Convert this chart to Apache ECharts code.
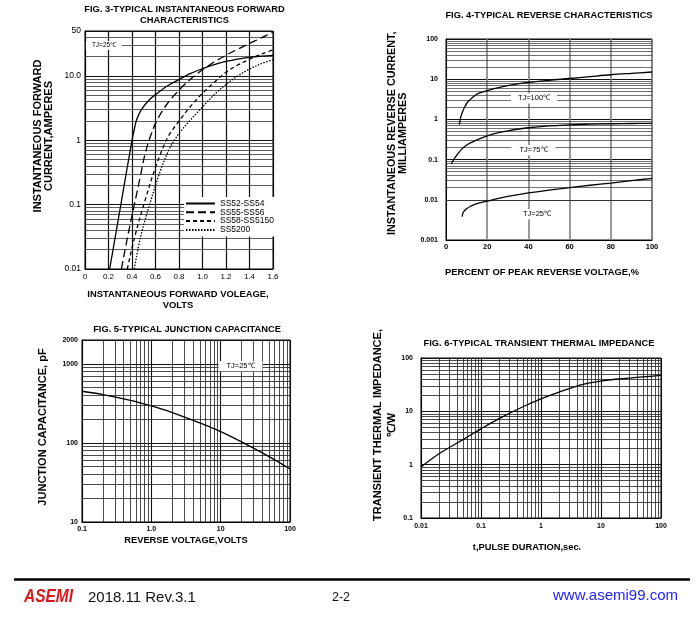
<!DOCTYPE html>
<html>
<head>
<meta charset="utf-8">
<script src="https://cdn.jsdelivr.net/npm/echarts@6/dist/echarts.min.js"></script>
<style>html,body{margin:0;padding:0;background:#fff}#c{width:700px;height:635px}</style>
</head>
<body>
<div id="c"></div>
<script>
// ---------- DATA ----------
// Fig.3 forward characteristics: [volts, amperes]
const fig3Names = ['SS52-SS54', 'SS55-SS56', 'SS58-SS5150', 'SS5200'];
const fig3SS52 = [[0.21,0.01],[0.305,0.1],[0.40,1.0],[0.42,1.5],[0.44,2.1],[0.48,3.0],[0.55,4.3],[0.61,5.3],[0.70,7.0],[0.81,9.0],[0.90,11.0],[1.0,13.0],[1.1,15.0],[1.2,16.8],[1.3,18.3],[1.4,19.5],[1.5,20.3],[1.6,20.9]];
const fig3SS55 = [[0.31,0.01],[0.36,0.03],[0.42,0.1],[0.47,0.27],[0.51,0.6],[0.56,1.2],[0.61,2.0],[0.70,3.7],[0.81,6.3],[0.90,9.0],[1.0,12.5],[1.1,16.5],[1.2,21.0],[1.3,26.0],[1.4,32.0],[1.5,39.0],[1.6,48.0]];
const fig3SS58 = [[0.36,0.01],[0.42,0.03],[0.50,0.1],[0.60,0.38],[0.68,0.9],[0.72,1.25],[0.81,2.1],[0.90,3.4],[1.0,5.4],[1.1,8.0],[1.2,11.4],[1.3,14.8],[1.4,18.2],[1.5,21.8],[1.6,25.5]];
const fig3SS5200 = [[0.42,0.01],[0.47,0.03],[0.55,0.1],[0.64,0.33],[0.72,0.75],[0.76,1.0],[0.81,1.35],[0.90,2.1],[1.0,3.3],[1.1,5.1],[1.2,7.4],[1.3,10.0],[1.4,12.8],[1.5,15.5],[1.6,18.0]];
const fig3XTicks = [0,0.2,0.4,0.6,0.8,1.0,1.2,1.4,1.6];
const fig3XLabels = ['0','0.2','0.4','0.6','0.8','1.0','1.2','1.4','1.6'];
const fig3YTicks = [0.01,0.1,1,10,50];
const fig3YLabels = ['0.01','0.1','1','10.0','50'];

// Fig.4 reverse characteristics: [% of peak reverse voltage, mA]
const fig4Names = ['TJ=100℃','TJ=75℃','TJ=25℃'];
const fig4T100 = [[6.5,0.74],[7.0,1.05],[7.8,1.44],[9.0,2.0],[10.2,2.56],[12,3.2],[13.4,3.7],[16,4.5],[20,5.2],[25,6.1],[30,6.9],[40,8.3],[50,9.4],[60,10.4],[70,11.6],[80,12.9],[90,14.0],[100,15.1]];
const fig4T75 = [[2.6,0.078],[4,0.105],[5.4,0.132],[7.5,0.18],[10.2,0.235],[15,0.31],[19.4,0.378],[25,0.46],[30,0.52],[40,0.62],[50,0.69],[60,0.73],[70,0.76],[80,0.78],[90,0.79],[100,0.8]];
const fig4T25 = [[7.8,0.0038],[8.2,0.0046],[8.6,0.0051],[10,0.006],[11.8,0.0068],[15,0.008],[19.4,0.0091],[25,0.0107],[30,0.0121],[40,0.0148],[50,0.0175],[60,0.02],[70,0.023],[80,0.026],[90,0.03],[100,0.034]];
const fig4XTicks = [0,20,40,60,80,100];
const fig4XLabels = ['0','20','40','60','80','100'];
const fig4YTicks = [0.001,0.01,0.1,1,10,100];
const fig4YLabels = ['0.001','0.01','0.1','1','10','100'];

// Fig.5 junction capacitance: [reverse volts, pF]
const fig5Cap = [[0.1,450],[0.2,409],[0.5,345],[1.0,293],[2.0,242],[5.0,179],[10,139],[20,103],[50,67],[100,46.7]];
const fig5XTicks = [0.1,1,10,100];
const fig5XLabels = ['0.1','1.0','10','100'];
const fig5YTicks = [10,100,1000,2000];
const fig5YLabels = ['10','100','1000','2000'];

// Fig.6 transient thermal impedance: [sec, ℃/W]
const fig6Imp = [[0.01,0.9],[0.02,1.6],[0.05,2.95],[0.1,4.7],[0.2,7.3],[0.5,12.2],[1,17.1],[2,22.9],[5,32.0],[10,37.0],[20,40.5],[50,44.2],[100,47.3]];
const fig6XTicks = [0.01,0.1,1,10,100];
const fig6XLabels = ['0.01','0.1','1','10','100'];
const fig6YTicks = [0.1,1,10,100];
const fig6YLabels = ['0.1','1','10','100'];

// ---------- HELPERS ----------
const FONT = '"Liberation Sans", Arial, Helvetica, sans-serif';
function logFmt(ticks, labels) {
  return function (v) {
    for (let i = 0; i < ticks.length; i++) {
      if (Math.abs(Math.log10(v) - Math.log10(ticks[i])) < 0.01) return labels[i];
    }
    return '';
  };
}
function linFmt(ticks, labels) {
  return function (v) {
    for (let i = 0; i < ticks.length; i++) {
      if (Math.abs(v - ticks[i]) < 1e-6) return labels[i];
    }
    return '';
  };
}
// minor log-paper lines (2..9 in each decade) inside [lo, hi]
function logMinors(lo, hi) {
  const out = [];
  for (let d = Math.floor(Math.log10(lo)); d <= Math.ceil(Math.log10(hi)); d++) {
    for (let k = 2; k <= 9; k++) {
      const v = k * Math.pow(10, d);
      if (v > lo * 1.0001 && v < hi * 0.9999) out.push(v);
    }
  }
  return out;
}
function gridSeries(idx, hVals, vVals, color, width) {
  const data = [];
  hVals.forEach(v => data.push({ yAxis: v }));
  vVals.forEach(v => data.push({ xAxis: v }));
  return {
    type: 'line', name: 'grid' + idx, xAxisIndex: idx, yAxisIndex: idx, data: [], z: 1,
    silent: true,
    markLine: {
      silent: true, symbol: ['none', 'none'], label: { show: false }, animation: false,
      emphasis: { disabled: true },
      lineStyle: { color: color, width: width, type: 'solid' },
      data: data
    }
  };
}
function curve(name, idx, data, type) {
  return {
    type: 'line', name: name, xAxisIndex: idx, yAxisIndex: idx, data: data,
    symbol: 'none', smooth: 0.35, z: 5, silent: true,
    itemStyle: { color: '#000' },
    lineStyle: { color: '#000', width: 1.3, type: type || 'solid' }
  };
}
function axisBase(extra) {
  return Object.assign({
    axisLine: { show: true, lineStyle: { color: '#000', width: 1 } },
    axisTick: { show: false },
    splitLine: { show: true, lineStyle: { color: '#111', width: 1.1 } }
  }, extra);
}
function lbl(fmt, size, margin, bold) {
  return { formatter: fmt, fontSize: size, margin: margin, color: '#000', fontFamily: FONT, fontWeight: bold ? 'bold' : 'normal' };
}
function txt(text, x, y, size, opts) {
  opts = opts || {};
  return {
    type: 'text', x: x, y: y, z: 100, rotation: opts.rot || 0, scaleX: opts.sx || 1,
    style: Object.assign({
      text: text, fontSize: size, fontFamily: opts.family || FONT, fontWeight: opts.weight || 'bold',
      fontStyle: opts.style || 'normal',
      fill: opts.color || '#000', textAlign: opts.align || 'center', textVerticalAlign: 'middle',
      lineHeight: opts.lh || size * 1.1
    }, opts.bg ? { backgroundColor: '#fff', padding: opts.pad || [1, 5] } : {})
  };
}

const gridCommon = { show: true, borderColor: '#000', borderWidth: 1, backgroundColor: 'transparent' };

const option = {
  animation: false,
  backgroundColor: '#fff',
  grid: [
    Object.assign({ left: 85, top: 31, width: 188, height: 238 }, gridCommon),
    Object.assign({ left: 446, top: 39, width: 206, height: 201 }, gridCommon),
    Object.assign({ left: 82, top: 340, width: 208, height: 182 }, gridCommon),
    Object.assign({ left: 421, top: 358, width: 240, height: 160 }, gridCommon)
  ],
  xAxis: [
    axisBase({ gridIndex: 0, type: 'value', min: 0, max: 1.6, interval: 0.2,
      axisLabel: lbl(linFmt(fig3XTicks, fig3XLabels), 8, 4, false),
      splitLine: { show: true, lineStyle: { color: '#111', width: 1.2 } } }),
    axisBase({ gridIndex: 1, type: 'value', min: 0, max: 100, interval: 20,
      axisLabel: lbl(linFmt(fig4XTicks, fig4XLabels), 7.5, 3, true),
      splitLine: { show: true, lineStyle: { color: '#808080', width: 1.6 } } }),
    axisBase({ gridIndex: 2, type: 'log', logBase: 10, min: 0.1, max: 100,
      axisLabel: lbl(logFmt(fig5XTicks, fig5XLabels), 7, 4, true) }),
    axisBase({ gridIndex: 3, type: 'log', logBase: 10, min: 0.01, max: 100,
      axisLabel: lbl(logFmt(fig6XTicks, fig6XLabels), 7, 5, true) })
  ],
  yAxis: [
    axisBase({ gridIndex: 0, type: 'log', logBase: 10, min: 0.01, max: 50,
      axisLabel: lbl(logFmt(fig3YTicks, fig3YLabels), 8.5, 4, false) }),
    axisBase({ gridIndex: 1, type: 'log', logBase: 10, min: 0.001, max: 100,
      axisLabel: lbl(logFmt(fig4YTicks, fig4YLabels), 7, 8, true) }),
    axisBase({ gridIndex: 2, type: 'log', logBase: 10, min: 10, max: 2000,
      axisLabel: lbl(logFmt(fig5YTicks, fig5YLabels), 7, 4, true) }),
    axisBase({ gridIndex: 3, type: 'log', logBase: 10, min: 0.1, max: 100,
      axisLabel: lbl(logFmt(fig6YTicks, fig6YLabels), 7, 8, true) })
  ],
  legend: {
    data: fig3Names, left: 184, top: 197, orient: 'vertical', itemWidth: 29, itemHeight: 7, itemGap: -0.2,
    backgroundColor: '#fff', padding: [2, 3, 2, 1], selectedMode: false, z: 20,
    itemStyle: { color: 'rgba(0,0,0,0)', borderColor: 'rgba(0,0,0,0)', borderWidth: 0, opacity: 0 },
    textStyle: { fontSize: 8.5, color: '#000', fontFamily: FONT, lineHeight: 7.5 }
  },
  series: [
    gridSeries(0, logMinors(0.01, 50), [], '#333', 0.8),
    gridSeries(1, logMinors(0.001, 100), [], '#333', 0.7),
    gridSeries(2, logMinors(10, 2000), logMinors(0.1, 100), '#2a2a2a', 0.85),
    gridSeries(3, logMinors(0.1, 100), logMinors(0.01, 100), '#2a2a2a', 0.85),
    curve(fig3Names[0], 0, fig3SS52, 'solid'),
    curve(fig3Names[1], 0, fig3SS55, [8, 4]),
    curve(fig3Names[2], 0, fig3SS58, [4, 3]),
    curve(fig3Names[3], 0, fig3SS5200, [1.5, 1.5]),
    curve(fig4Names[0], 1, fig4T100),
    curve(fig4Names[1], 1, fig4T75),
    curve(fig4Names[2], 1, fig4T25),
    curve('Junction capacitance', 2, fig5Cap),
    curve('Transient thermal impedance', 3, fig6Imp)
  ],
  graphic: [
    // titles
    txt('FIG. 3-TYPICAL INSTANTANEOUS FORWARD\nCHARACTERISTICS', 184.5, 15, 9.3, { lh: 10.3 }),
    txt('FIG. 4-TYPICAL REVERSE CHARACTERISTICS', 549, 15.7, 9.3),
    txt('FIG. 5-TYPICAL JUNCTION CAPACITANCE', 187, 329, 9.3),
    txt('FIG. 6-TYPICAL TRANSIENT THERMAL IMPEDANCE', 539, 343.3, 9.3),
    // axis names
    txt('INSTANTANEOUS FORWARD\nCURRENT,AMPERES', 43.5, 136, 11, { rot: Math.PI / 2, lh: 10.5 }),
    txt('INSTANTANEOUS FORWARD VOLEAGE,\nVOLTS', 178, 300, 9.4, { lh: 10.5 }),
    txt('INSTANTANEOUS REVERSE CURRENT,\nMILLIAMPERES', 397.5, 133.3, 10.8, { rot: Math.PI / 2, lh: 11 }),
    txt('PERCENT OF PEAK REVERSE VOLTAGE,%', 542, 272, 9.4),
    txt('JUNCTION CAPACITANCE, pF', 43, 427, 11, { rot: Math.PI / 2 }),
    txt('REVERSE VOLTAGE,VOLTS', 186, 540.7, 9.3),
    txt('TRANSIENT THERMAL IMPEDANCE,\n℃/W', 385, 425, 11, { rot: Math.PI / 2, lh: 14 }),
    txt('t,PULSE DURATION,sec.', 527, 547, 9.3),
    // in-plot annotations
    txt('TJ=25℃', 104, 45.5, 6.5, { weight: 'normal', bg: true, pad: [1, 6] }),
    txt('TJ=100℃', 534, 98.3, 7.5, { weight: 'normal', bg: true, pad: [1, 7] }),
    txt('TJ=75℃', 533.5, 150, 7.5, { weight: 'normal', bg: true, pad: [1, 8] }),
    txt('TJ=25℃', 537, 214, 7.5, { weight: 'normal', bg: true, pad: [1, 7] }),
    txt('TJ=25℃', 240.5, 366, 7.5, { weight: 'normal', bg: true, pad: [1, 8] }),
    // footer
    { type: 'line', z: 100, shape: { x1: 14, y1: 579.5, x2: 690, y2: 579.5 }, style: { stroke: '#000', lineWidth: 2.5 } },
    txt('ASEMI', 24, 597, 18, { align: 'left', style: 'italic', color: '#d7191f', sx: 0.86 }),
    txt('2018.11 Rev.3.1', 88, 597.5, 15, { align: 'left', weight: 'normal', color: '#111' }),
    txt('2-2', 341, 597.5, 12.5, { weight: 'normal', color: '#111' }),
    txt('www.asemi99.com', 553, 595.5, 15, { align: 'left', weight: 'normal', color: '#2323ff' })
  ]
};

const chart = echarts.init(document.getElementById('c'), null, { renderer: 'canvas' });
chart.setOption(option);
</script>
</body>
</html>
